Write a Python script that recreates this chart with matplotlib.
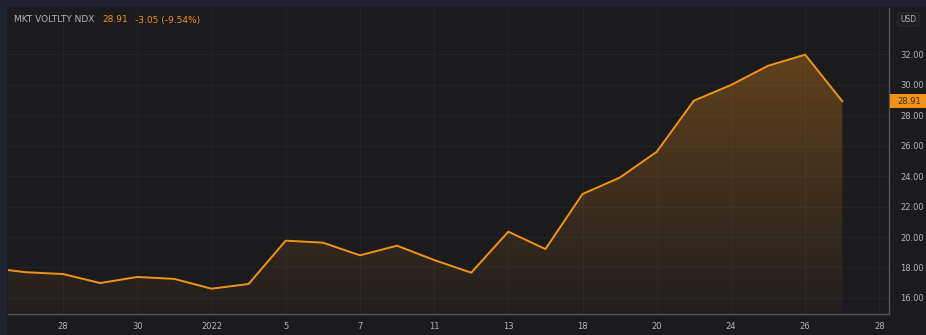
import numpy as np
import matplotlib
matplotlib.use("Agg")
import matplotlib.pyplot as plt
from matplotlib.patches import Rectangle, FancyBboxPatch

# ---- data ----
dates = ["Dec 23", "Dec 27", "Dec 28", "Dec 29", "Dec 30", "Dec 31",
         "Jan 3", "Jan 4", "Jan 5", "Jan 6", "Jan 7", "Jan 10", "Jan 11",
         "Jan 12", "Jan 13", "Jan 14", "Jan 18", "Jan 19", "Jan 20",
         "Jan 21", "Jan 24", "Jan 25", "Jan 26", "Jan 27"]
values = [17.98, 17.69, 17.57, 16.98, 17.38, 17.25,
          16.61, 16.92, 19.76, 19.63, 18.80, 19.43, 18.49,
          17.66, 20.35, 19.21, 22.82, 23.89, 25.59,
          28.94, 29.97, 31.23, 31.96, 28.91]
tick_idx = [2, 4, 6, 8, 10, 12, 14, 16, 18, 20, 22, 24]
tick_labels = ["28", "30", "2022", "5", "7", "11", "13", "18", "20", "24", "26", "28"]
y_ticks = [16, 18, 20, 22, 24, 26, 28, 30, 32]
last_price = "28.91"
change_text = "-3.05 (-9.54%)"
title = "MKT VOLTLTY NDX"

BG = "#1b1b1e"
FRAME = "#1f2230"
ORANGE = "#f29318"
TXT = "#b2b5be"
GRID = "#232327"
AXLINE = "#55565c"

W, H = 926, 335
fig = plt.figure(figsize=(W / 100, H / 100), dpi=100, facecolor=BG)

# outer frame bands (top and left)
fig.patches.append(Rectangle((0, 1 - 7 / H), 1, 7 / H, transform=fig.transFigure,
                             facecolor=FRAME, edgecolor="none", zorder=0))
fig.patches.append(Rectangle((0, 0), 7 / W, 1, transform=fig.transFigure,
                             facecolor=FRAME, edgecolor="none", zorder=0))

L, R, T, B = 8, 889, 8, 314
ax = fig.add_axes([L / W, (H - B) / H, (R - L) / W, (B - T) / H])
ax.set_facecolor(BG)

x = np.arange(len(values))
ymin, ymax = 14.95, 35.02
ax.set_xlim(0.515, 24.26)
ax.set_ylim(ymin, ymax)

# gradient fill under line
poly = ax.fill_between(x, values, ymin, facecolor="none", edgecolor="none")
n = 256
alphas = np.linspace(0.03, 0.32, n)
grad = np.zeros((n, 1, 4))
grad[:, 0, 0] = 0.95
grad[:, 0, 1] = 0.57
grad[:, 0, 2] = 0.10
grad[:, 0, 3] = alphas
im = ax.imshow(grad, extent=[x[0], x[-1], ymin, max(values)], origin="lower",
               aspect="auto", zorder=1, interpolation="bilinear")
im.set_clip_path(poly.get_paths()[0], transform=ax.transData)

ax.plot(x, values, color=ORANGE, lw=1.4, zorder=3, solid_joinstyle="round")

# grid
ax.set_xticks(tick_idx)
ax.set_xticklabels(tick_labels)
ax.set_yticks(y_ticks)
ax.set_yticklabels([f"{v:.2f}" for v in y_ticks])
ax.grid(True, color=GRID, lw=0.8)
ax.set_axisbelow(True)

ax.yaxis.tick_right()
ax.tick_params(axis="y", length=0, pad=8, labelsize=6, labelcolor=TXT)
ax.tick_params(axis="x", length=0, pad=6, labelsize=6, labelcolor=TXT)

for s in ["top", "left"]:
    ax.spines[s].set_visible(False)
ax.spines["right"].set_color(AXLINE)
ax.spines["bottom"].set_color(AXLINE)
ax.spines["right"].set_linewidth(1)
ax.spines["bottom"].set_linewidth(1)

# legend text
ax.text(14 / W, 1 - 20 / H, title, transform=fig.transFigure, color=TXT,
        fontsize=6.5, va="center", ha="left")
ax.text(102 / W, 1 - 20 / H, last_price, transform=fig.transFigure, color=ORANGE,
        fontsize=6.5, va="center", ha="left")
ax.text(135 / W, 1 - 20 / H, change_text, transform=fig.transFigure, color=ORANGE,
        fontsize=6.5, va="center", ha="left")

# USD box
fig.patches.append(FancyBboxPatch((898 / W, 1 - 26 / H), 21 / W, 13 / H,
                                  boxstyle="round,pad=0,rounding_size=0.004",
                                  transform=fig.transFigure, facecolor="#1e1f23",
                                  edgecolor="#2c2d33", lw=0.8, zorder=2))
fig.text(908.5 / W, 1 - 19.5 / H, "USD", color=TXT, fontsize=5.5,
         ha="center", va="center", zorder=3)

# last price label
py = ax.transData.transform((0, values[-1]))[1]
fig.patches.append(Rectangle((890 / W, py / H - 7 / H), 36 / W, 14 / H,
                             transform=fig.transFigure, facecolor=ORANGE,
                             edgecolor="none", zorder=4))
fig.text(909 / W, py / H, last_price, color="#3a2a10", fontsize=6,
         ha="center", va="center", zorder=5)

fig.savefig("out.png", dpi=100, facecolor=BG)
